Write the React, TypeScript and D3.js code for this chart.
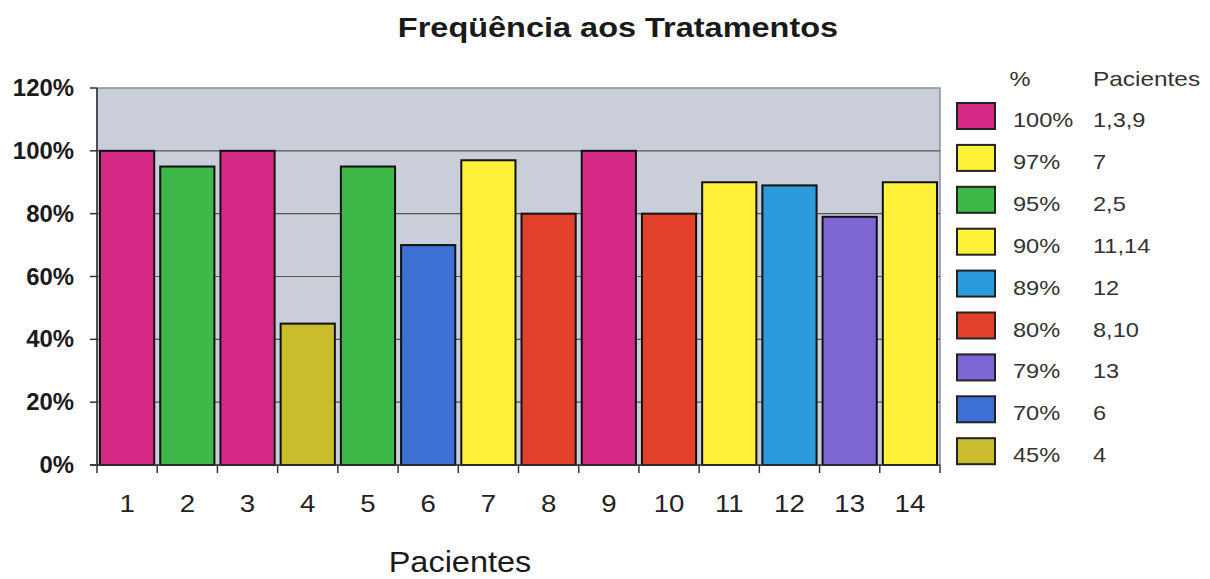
import React, { useEffect } from "react";
import * as d3 from "d3";

const patients = ["1", "2", "3", "4", "5", "6", "7", "8", "9", "10", "11", "12", "13", "14"];
const values = [100, 95, 100, 45, 95, 70, 97, 80, 100, 80, 90, 89, 79, 90];
const barColors = ["#d42a86", "#3fb84a", "#d42a86", "#c9bd2e", "#3fb84a", "#3e6fd2", "#fff03a", "#e2402a", "#d42a86", "#e2402a", "#fff03a", "#2b9bdc", "#7d66d2", "#fff03a"];
const yTicks = [0, 20, 40, 60, 80, 100, 120];
const legendPct = ["100%", "97%", "95%", "90%", "89%", "80%", "79%", "70%", "45%"];
const legendPatients = ["1,3,9", "7", "2,5", "11,14", "12", "8,10", "13", "6", "4"];
const legendColors = ["#d42a86", "#fff03a", "#3fb84a", "#fff03a", "#2b9bdc", "#e2402a", "#7d66d2", "#3e6fd2", "#c9bd2e"];

const W = 1210, H = 579;
const left = 97, right = 940, top = 88, bottom = 465;

function T(props: { x: number; y: number; sx?: number; size: number; anchor?: string; weight?: string; fill?: string; children: any }) {
  const { x, y, sx = 1.18, size, anchor = "start", weight = "normal", fill = "#1a1a1a", children } = props;
  return (
    <text transform={`translate(${x},${y}) scale(${sx},1)`} textAnchor={anchor} fontSize={size} fontWeight={weight} fill={fill}>
      {children}
    </text>
  );
}

export default function App() {
  useEffect(() => {
    document.body.style.margin = "0";
  }, []);
  const x = d3.scaleBand<string>().domain(patients).range([left, right]).paddingInner(0.1).paddingOuter(0.05);
  const y = d3.scaleLinear().domain([0, 120]).range([bottom, top]);
  const step = x.step();
  const font = "Arial, 'Liberation Sans', sans-serif";
  return (
    <svg width={W} height={H} style={{ display: "block" }} fontFamily={font}>
      <rect x={0} y={0} width={W} height={H} fill="#ffffff" />
      <T x={618} y={37} size={28} weight="bold" anchor="middle" sx={1.16}>Freqüência aos Tratamentos</T>
      {/* plot area */}
      <rect x={left} y={top} width={right - left} height={bottom - top} fill="#c9ced8" stroke="#8a8f98" strokeWidth={1.5} />
      {yTicks.filter(t => t > 0 && t < 120).map(t => (
        <line key={"g" + t} x1={left} x2={right} y1={y(t)} y2={y(t)} stroke="#555" strokeWidth={1.2} />
      ))}
      {/* bars */}
      {values.map((v, i) => (
        <rect key={"b" + i} x={x(patients[i])} y={y(v)} width={x.bandwidth()} height={bottom - y(v)}
          fill={barColors[i]} stroke="#111" strokeWidth={2} />
      ))}
      {/* axes */}
      <line x1={left} x2={left} y1={top} y2={bottom} stroke="#333" strokeWidth={1.5} />
      <line x1={left - 7} x2={right} y1={bottom} y2={bottom} stroke="#333" strokeWidth={1.5} />
      {yTicks.map(t => (
        <g key={"y" + t}>
          <line x1={left - 7} x2={left} y1={y(t)} y2={y(t)} stroke="#333" strokeWidth={1.5} />
          <T x={74} y={y(t) + 8} size={23} weight="bold" anchor="end" sx={1.04}>{t}%</T>
        </g>
      ))}
      {patients.map((p, i) => (
        <line key={"xt" + i} x1={left + i * step} x2={left + i * step} y1={bottom} y2={bottom + 8} stroke="#333" strokeWidth={1.5} />
      ))}
      <line x1={right} x2={right} y1={bottom} y2={bottom + 8} stroke="#333" strokeWidth={1.5} />
      {patients.map(p => (
        <T key={"xl" + p} x={x(p)! + x.bandwidth() / 2} y={512} size={23} anchor="middle" sx={1.2} fill="#222">{p}</T>
      ))}
      <T x={460} y={572} size={29} anchor="middle" sx={1.12} fill="#1a1a1a">Pacientes</T>
      {/* legend */}
      <T x={1020} y={86} size={20} anchor="middle" fill="#333">%</T>
      <T x={1093} y={86} size={20} fill="#333" sx={1.22}>Pacientes</T>
      {legendPct.map((l, i) => (
        <g key={"lg" + i} transform={`translate(0, ${103 + i * 41.9})`}>
          <rect x={957} y={0} width={38} height={26} fill={legendColors[i]} stroke="#222" strokeWidth={2} />
          <T x={1013} y={24} size={20} fill="#333" sx={1.18}>{l}</T>
          <T x={1093} y={24} size={20} fill="#333" sx={1.18}>{legendPatients[i]}</T>
        </g>
      ))}
    </svg>
  );
}
